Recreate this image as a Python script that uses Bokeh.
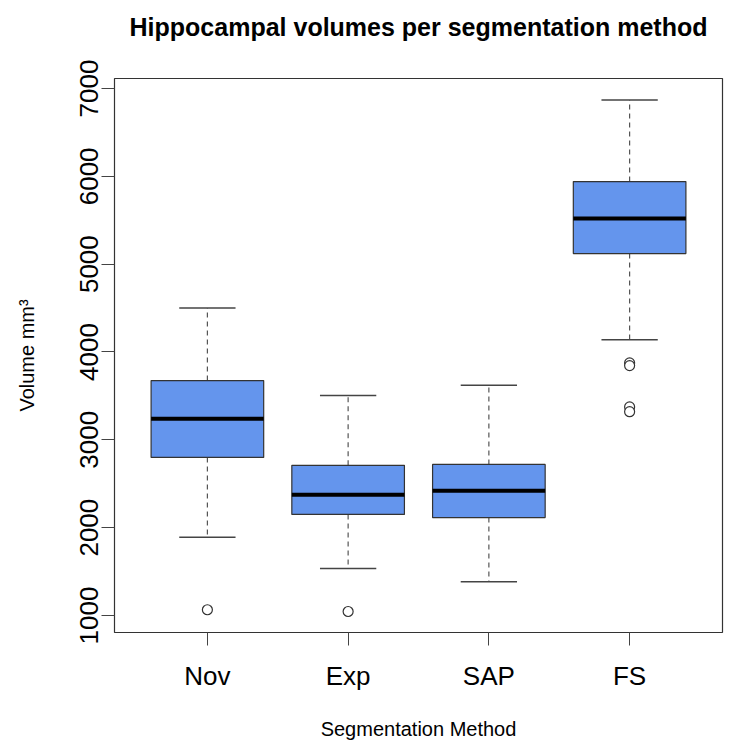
from bokeh.plotting import figure
from bokeh.models import Range1d, FixedTicker, ColumnDataSource, Title
from bokeh.embed import file_html
from bokeh.resources import INLINE

categories = ["Nov", "Exp", "SAP", "FS"]
lower_whisker = [1890, 1535, 1385, 4140]
q1 = [2800, 2150, 2115, 5120]
median = [3240, 2375, 2420, 5520]
q3 = [3675, 2710, 2720, 5940]
upper_whisker = [4500, 3505, 3620, 6870]
outlier_cat = ["Nov", "Exp", "FS", "FS", "FS", "FS"]
outlier_val = [1065, 1045, 3875, 3845, 3375, 3320]
title_text = "Hippocampal volumes per segmentation method"

xpos = [i + 1 for i in range(len(categories))]
src = ColumnDataSource(dict(
    x=xpos, lw=lower_whisker, q1=q1, med=median, q3=q3, uw=upper_whisker,
    x0=[x - 0.4 for x in xpos], x1=[x + 0.4 for x in xpos],
    c0=[x - 0.2 for x in xpos], c1=[x + 0.2 for x in xpos],
))
osrc = ColumnDataSource(dict(
    x=[categories.index(c) + 1 for c in outlier_cat], y=outlier_val))

p = figure(width=730, height=749, output_backend="svg", toolbar_location=None,
           x_range=Range1d(0.34, 4.66), y_range=Range1d(806, 7114),
           min_border_left=114, min_border_right=8, min_border_top=78,
           min_border_bottom=117, title=None)
p.background_fill_color = "white"
p.border_fill_color = "white"
p.xgrid.visible = False
p.ygrid.visible = False
p.outline_line_color = "#333333"
p.outline_line_width = 1.2

# trailing empty line lifts the title towards the top of the page
t = Title(text=title_text + "\n", align="center", vertical_align="top",
          text_font="Liberation Sans", text_font_style="bold",
          text_font_size="25px", text_color="black", standoff=16)
p.add_layout(t, "above")

# whiskers
p.segment(x0="x", y0="q3", x1="x", y1="uw", source=src, line_color="#555555",
          line_width=1.2, line_dash="5 4")
p.segment(x0="x", y0="q1", x1="x", y1="lw", source=src, line_color="#555555",
          line_width=1.2, line_dash="5 4")
# caps
p.segment(x0="c0", y0="uw", x1="c1", y1="uw", source=src, line_color="#444444", line_width=1.5)
p.segment(x0="c0", y0="lw", x1="c1", y1="lw", source=src, line_color="#444444", line_width=1.5)
# boxes
p.vbar(x="x", width=0.8, bottom="q1", top="q3", source=src,
       fill_color="#6495ED", line_color="#333333", line_width=1.2)
# medians
p.segment(x0="x0", y0="med", x1="x1", y1="med", source=src, line_color="black", line_width=4)
# outliers
p.scatter(x="x", y="y", source=osrc, marker="circle", size=10,
          fill_color="white", line_color="#333333", line_width=1.2)

xa = p.xaxis[0]
xa.ticker = FixedTicker(ticks=xpos)
xa.major_label_overrides = {i + 1: c for i, c in enumerate(categories)}
xa.minor_tick_line_color = None
xa.major_tick_in = 0
xa.major_tick_out = 13
xa.major_tick_line_color = "#444444"
xa.axis_line_color = None
xa.major_label_text_font = "Liberation Sans"
xa.major_label_text_font_size = "26px"
xa.major_label_text_color = "black"
xa.major_label_standoff = 15
xa.axis_label = "Segmentation Method"
xa.axis_label_text_font = "Liberation Sans"
xa.axis_label_text_font_style = "normal"
xa.axis_label_text_font_size = "20px"
xa.axis_label_text_color = "black"
xa.axis_label_standoff = 24

ya = p.yaxis[0]
ya.ticker = FixedTicker(ticks=[1000, 2000, 3000, 4000, 5000, 6000, 7000])
ya.minor_tick_line_color = None
ya.major_tick_in = 0
ya.major_tick_out = 13
ya.major_tick_line_color = "#444444"
ya.axis_line_color = None
ya.major_label_orientation = "vertical"
ya.major_label_text_font = "Liberation Sans"
ya.major_label_text_font_size = "26px"
ya.major_label_text_color = "black"
ya.major_label_standoff = 3
ya.axis_label = "Volume mm³"
ya.axis_label_text_font = "Liberation Sans"
ya.axis_label_text_font_style = "normal"
ya.axis_label_text_font_size = "20px"
ya.axis_label_text_color = "black"
ya.axis_label_standoff = 40

open("out.html", "w").write(file_html(p, INLINE))
